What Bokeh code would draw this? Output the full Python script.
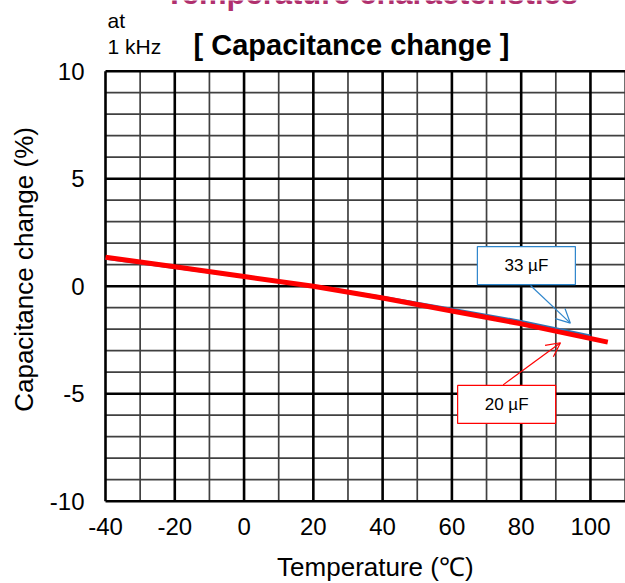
from bokeh.plotting import figure
from bokeh.models import Range1d, FixedTicker, Label, Arrow, OpenHead
from bokeh.embed import file_html
from bokeh.resources import INLINE

# ---- data ----
temp_20uF = [-40, -20, 0, 20, 40, 60, 80, 105]
cap_20uF = [1.35, 0.9, 0.45, 0.0, -0.55, -1.15, -1.75, -2.6]
temp_33uF = [-40, -20, 0, 20, 40, 60, 80, 100]
cap_33uF = [1.28, 0.85, 0.42, 0.0, -0.5, -1.05, -1.62, -2.3]

x_major = [-40, -20, 0, 20, 40, 60, 80, 100]
x_minor = [-30, -10, 10, 30, 50, 70, 90, 110]
x_tick_labels = ["-40", "-20", "0", "20", "40", "60", "80", "100"]
x_extent = (-40, 120)
y_major = [-10, -5, 0, 5, 10]
y_minor = [-9, -8, -7, -6, -4, -3, -2, -1, 1, 2, 3, 4, 6, 7, 8, 9]
y_tick_labels = ["-10", "-5", "0", "5", "10"]

series_names = ["33 µF", "20 µF"]
# callout: box centre, arrow start, arrow end (data coords)
callout_box = [(81.5, 0.96), (75.8, -5.5)]
callout_arrow = [((82.7, 0.03), (94.2, -1.72)), ((74.8, -4.59), (91.35, -2.63))]

BLUE = "#2E75B6"
BLUE_CALLOUT = "#2F86CC"
RED = "#FF0000"
FONT = "Liberation Sans"

W, H = 625, 583
PX_X, PX_Y = 3.464, 21.5          # pixels per data unit
LEFT_PX, TOP_PX = 105, 70.7       # where -40 / +10 sit on the canvas

x0 = -40 - LEFT_PX / PX_X
y1 = 10 + TOP_PX / PX_Y
p = figure(width=W, height=H, output_backend="svg", toolbar_location=None,
           x_range=Range1d(x0, x0 + W / PX_X),
           y_range=Range1d(y1 - H / PX_Y, y1),
           min_border=0, min_border_left=0, min_border_right=0,
           min_border_top=0, min_border_bottom=0)
p.outline_line_color = None
p.background_fill_color = "white"
p.border_fill_color = "white"
p.grid.visible = False

# grid lines (bounded to the chart box)
ylo, yhi = y_major[0], y_major[-1]
xlo, xhi = x_extent
p.segment(x0=x_minor, y0=[ylo] * len(x_minor), x1=x_minor, y1=[yhi] * len(x_minor),
          line_color="#404040", line_width=1.7)
p.segment(x0=[xlo] * len(y_minor), y0=y_minor, x1=[xhi] * len(y_minor), y1=y_minor,
          line_color="#404040", line_width=1.7)
p.segment(x0=x_major, y0=[ylo] * len(x_major), x1=x_major, y1=[yhi] * len(x_major),
          line_color="black", line_width=2.6)
p.segment(x0=[xlo] * len(y_major), y0=y_major, x1=[xhi] * len(y_major), y1=y_major,
          line_color="black", line_width=2.6)

# axes, fixed on the chart box edges
xa, ya = p.xaxis[0], p.yaxis[0]
xa.fixed_location = ylo
ya.fixed_location = xlo
xa.bounds = x_extent
ya.bounds = (ylo, yhi)
for ax, ticks, labels, st in ((xa, x_major, x_tick_labels, 11),
                              (ya, y_major, y_tick_labels, 15)):
    ax.ticker = FixedTicker(ticks=ticks)
    ax.major_label_overrides = {t: l for t, l in zip(ticks, labels)}
    ax.axis_line_color = None
    ax.major_tick_line_color = None
    ax.minor_tick_line_color = None
    ax.major_label_text_font = FONT
    ax.major_label_text_font_size = "24px"
    ax.major_label_text_color = "black"
    ax.major_label_standoff = st

# series
p.line(temp_33uF, cap_33uF, line_color=BLUE, line_width=2.2)
p.line(temp_20uF, cap_20uF, line_color=RED, line_width=5)

# callouts
for name, (bx, by), ((xs, ys), (xe, ye)), col in zip(
        series_names, callout_box, callout_arrow, [BLUE_CALLOUT, RED]):
    p.rect(x=bx, y=by, width=98, height=38, width_units="screen",
           height_units="screen", fill_color="white", line_color=col,
           line_width=1.2)
    p.add_layout(Label(x=bx, y=by, text=name, text_align="center",
                       text_baseline="middle", text_font=FONT,
                       text_font_size="17px", text_color="black"))
    p.add_layout(Arrow(x_start=xs, y_start=ys, x_end=xe, y_end=ye,
                       line_color=col, line_width=1.2,
                       end=OpenHead(size=14, line_color=col, line_width=1.2)))

# axis titles
p.add_layout(Label(x=37.9, y=-13.08, text="Temperature (℃)",
                   text_align="center", text_baseline="middle",
                   text_font=FONT, text_font_size="26px", text_color="black"))
p.add_layout(Label(x=-63.4, y=0.78, text="Capacitance change (%)",
                   angle=1.5707963, text_align="center",
                   text_baseline="middle", text_font=FONT,
                   text_font_size="26px", text_color="black"))

# texts above the chart box
p.add_layout(Label(x=36.8, y=13.62, text="Temperature characteristics",
                   text_align="center", text_baseline="alphabetic",
                   text_font=FONT, text_font_style="bold",
                   text_font_size="31px", text_color="#B0306E"))
p.add_layout(Label(x=-39.4, y=12.36, text="at", text_align="left",
                   text_baseline="alphabetic", text_font=FONT,
                   text_font_size="21px", text_color="black"))
p.add_layout(Label(x=-39.4, y=11.15, text="1 kHz", text_align="left",
                   text_baseline="alphabetic", text_font=FONT,
                   text_font_size="21px", text_color="black"))
p.add_layout(Label(x=31.0, y=11.2, text="[ Capacitance change ]",
                   text_align="center", text_baseline="alphabetic",
                   text_font=FONT, text_font_style="bold",
                   text_font_size="29px", text_color="black"))

open("out.html", "w").write(file_html(p, INLINE))
